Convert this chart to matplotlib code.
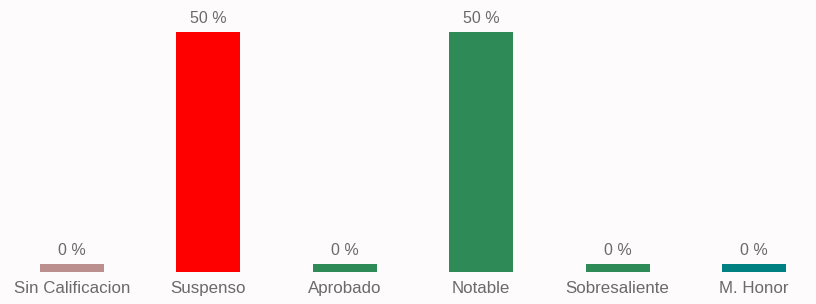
import matplotlib
matplotlib.use("Agg")
import matplotlib.pyplot as plt

categories = ["Sin Calificacion", "Suspenso", "Aprobado", "Notable", "Sobresaliente", "M. Honor"]
values = [0, 50, 0, 50, 0, 0]
colors = ["#BC8F8F", "#FF0000", "#2E8B57", "#2E8B57", "#2E8B57", "#008080"]
value_labels = [f"{v} %" for v in values]

stub = 1.67  # minimum visible height for zero bars
bg = "#FDFBFC"

fig = plt.figure(figsize=(8.16, 3.04), dpi=100, facecolor=bg)
ax = fig.add_axes([0, 32/304, 1, 240/304], facecolor=bg)
x = list(range(len(categories)))
heights = [max(v, stub) for v in values]
ax.bar(x, heights, width=0.47, color=colors, linewidth=0)
ax.set_xlim(-0.528, 5.455)
ax.set_ylim(0, 50)
for xi, h, lab in zip(x, heights, value_labels):
    ax.text(xi, h + 1.2, lab, ha="center", va="bottom", fontsize=11.5,
            color="#6a6a6a", family="Liberation Sans", clip_on=False)
for xi, c in zip(x, categories):
    ax.text(xi, -1.9, c, ha="center", va="top", fontsize=12.2,
            color="#6a6a6a", family="Liberation Sans", clip_on=False)
for s in ax.spines.values():
    s.set_visible(False)
ax.set_xticks([])
ax.set_yticks([])
fig.savefig("out.png", dpi=100, facecolor=bg)
